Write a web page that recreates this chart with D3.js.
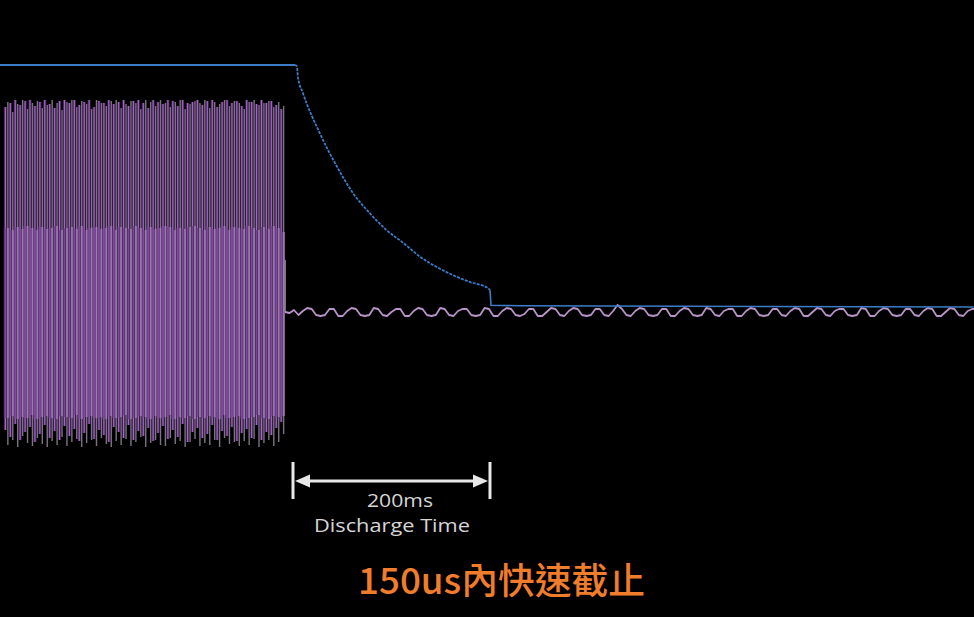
<!DOCTYPE html>
<html><head><meta charset="utf-8">
<script src="https://cdn.jsdelivr.net/npm/d3@7/dist/d3.min.js"></script>
<style>html,body{margin:0;padding:0;background:#000;}svg{display:block;}</style>
</head><body>
<svg id="chart" width="974" height="617"></svg>
<script>
// ---- data (time in ms, discharge starts at t=0) ----
const blueTime = [-300, 2, 4, 5, 10, 27, 45, 61, 78, 95, 112, 129, 146, 162, 180, 198, 200, 201, 230, 691];
const blueVolt = [400, 400, 398, 380, 354, 288, 231, 188, 155, 127, 106, 83, 66, 53, 41, 31, 28, 3, 2, 0];

const pulseTime = [-292,-287,-282,-277,-272,-267,-262,-257,-252,-247,-242,-237,-232,-227,-222,-217,-212,-207,-202,-197,-192,-187,-182,-177,-172,-167,-162,-157,-152,-147,-142,-137,-132,-127,-122,-117,-112,-107,-102,-97,-92,-87,-82,-77,-72,-67,-62,-57,-52,-47,-42,-37,-32,-27,-22,-17,-12];
const pulseHigh = [205,209,212,207,211,212,206,210,212,208,204,211,212,209,212,207,210,212,205,211,209,212,208,210,212,206,211,212,209,204,212,210,208,212,211,206,212,209,210,212,207,211,212,205,210,212,209,211,206,212,210,208,212,209,211,207,203];
const grayHigh  = [210,200,208,212,203,209,211,204,207,212,209,202,210,212,205,211,208,203,212,209,206,211,212,204,208,211,209,203,212,210,206,212,209,205,210,212,203,208,211,209,212,204,210,208,212,206,211,209,203,210,212,207,209,211,205,210,206];
const pulseLow  = [-118,-125,-112,-128,-120,-115,-130,-122,-113,-126,-119,-128,-114,-124,-117,-129,-121,-112,-127,-118,-123,-130,-115,-120,-126,-113,-128,-119,-124,-116,-129,-121,-114,-127,-118,-125,-112,-130,-120,-116,-126,-122,-113,-128,-119,-124,-115,-129,-121,-117,-126,-113,-128,-120,-123,-116,-110];
const grayLow   = [-133,-128,-135,-124,-131,-134,-126,-132,-135,-129,-133,-125,-134,-130,-127,-135,-131,-128,-134,-126,-132,-135,-129,-133,-127,-134,-130,-125,-135,-131,-128,-133,-134,-126,-132,-129,-135,-130,-127,-134,-131,-133,-128,-135,-126,-132,-130,-134,-129,-133,-127,-135,-131,-128,-134,-130,-122];
const bandHigh  = [84,82,85,83,86,84,82,85,83,84,86,82,84,85,83,86,82,84,85,83,84,86,82,85,84,83,86,84,82,85,83,84,86,85,82,84,83,85,86,84,82,85,83,84,86,82,85,84,83,86,84,82,85,83,86,84,80];
const bandLow   = [-106,-104,-107,-105,-106,-103,-107,-105,-104,-106,-107,-104,-105,-106,-103,-107,-105,-104,-106,-105,-107,-104,-106,-105,-103,-107,-106,-104,-105,-107,-104,-106,-105,-103,-107,-105,-106,-104,-107,-105,-106,-104,-105,-107,-103,-106,-105,-104,-107,-106,-105,-103,-106,-107,-104,-105,-104];

// cut-off edge of the purple channel
const cutoffTime = -8, cutoffVolt = 52;
// purple channel after cut-off, sampled every 4.5 ms from t = -8
const rippleStart = -8, rippleStep = 4.5;
const rippleVolt = [0,-1,2,-3,1,4,3,-3,-4,-3,3,3,-4,-4,1,4,3,-3,-4,-3,4,3,-3,-4,0,3,3,-4,-4,1,4,3,-3,-4,-3,4,3,-3,-4,1,3,3,-3,-4,-3,4,3,-4,-4,1,4,3,-3,-4,-2,3,3,-4,-4,0,4,3,-3,-4,1,4,3,-3,-4,-3,3,3,-3,-4,1,7,3,-3,-4,1,4,3,-3,-4,-3,3,3,-4,-4,1,4,3,-3,-4,-3,4,3,-3,-4,1,3,3,-4,-4,1,4,3,-3,-4,-3,3,3,-3,-4,1,4,3,-4,-4,0,4,3,-3,-4,1,3,3,-3,-4,-3,4,3,-4,-4,1,4,3,-3,-4,-3,3,3,-3,-4,1,4,3,-4,-4,0,4,3,-3,-4,1,3,3,-3,-4,-3,4,3,-3];

const arrowStart = 0, arrowEnd = 200;
const arrowLabel1 = "200ms", arrowLabel2 = "Discharge Time";
const title = "150us內快速截止";

// ---- scales ----
const svg = d3.select("#chart");
const x = d3.scaleLinear().domain([-300, 692]).range([-2.5, 974.6]);
const yB = d3.scaleLinear().domain([0, 400]).range([307, 65]);
const yP = d3.scaleLinear().domain([0, 212]).range([312, 100]);

svg.append("rect").attr("width", 974).attr("height", 617).attr("fill", "#000");

// ---- burst ----
const pulses = pulseTime.map((t, i) => ({t, hi: pulseHigh[i], lo: pulseLow[i], ghi: grayHigh[i], glo: grayLow[i], bh: bandHigh[i], bl: bandLow[i]}));
const g = svg.append("g");
const w = x(5) - x(0);
g.selectAll("rect.band").data(pulses).join("rect")
  .attr("x", d => x(d.t) - 1.5).attr("width", w + 0.3)
  .attr("y", d => yP(d.bh)).attr("height", d => yP(d.bl) - yP(d.bh))
  .attr("fill", "#9c55be");
g.selectAll("rect.halo").data(pulses).join("rect")
  .attr("x", d => x(d.t) - 1.5).attr("width", 3)
  .attr("y", d => yP(d.hi)).attr("height", d => yP(d.lo) - yP(d.hi))
  .attr("fill", "#45275a").attr("opacity", 0.9);
g.selectAll("line.p").data(pulses).join("line")
  .attr("x1", d => x(d.t)).attr("x2", d => x(d.t))
  .attr("y1", d => yP(d.hi)).attr("y2", d => yP(d.lo))
  .attr("stroke", "#a862cc").attr("stroke-width", 1.2);
g.selectAll("line.g").data(pulses).join("line")
  .attr("x1", d => x(d.t + 2.5)).attr("x2", d => x(d.t + 2.5))
  .attr("y1", d => yP(d.ghi)).attr("y2", d => yP(d.glo))
  .attr("stroke", "#7a7480").attr("stroke-width", 1.4);
g.selectAll("line.bp").data(pulses).join("line")
  .attr("x1", d => x(d.t)).attr("x2", d => x(d.t))
  .attr("y1", d => yP(d.bh)).attr("y2", d => yP(d.bl))
  .attr("stroke", "#7c3f9c").attr("stroke-width", 1);
g.selectAll("line.bg").data(pulses).join("line")
  .attr("x1", d => x(d.t + 2.5)).attr("x2", d => x(d.t + 2.5))
  .attr("y1", d => yP(d.bh)).attr("y2", d => yP(d.bl))
  .attr("stroke", "#a08cac").attr("stroke-width", 1).attr("opacity", 0.7);

// ---- cut-off edge + ripple ----
svg.append("line").attr("x1", x(cutoffTime)).attr("x2", x(cutoffTime))
  .attr("y1", yP(cutoffVolt)).attr("y2", yP(0)).attr("stroke", "#9a8aa0").attr("stroke-width", 1.4);
const ripple = rippleVolt.map((v, i) => ({t: rippleStart + i * rippleStep, v}));
svg.append("path").datum(ripple)
  .attr("d", d3.line().x(d => x(d.t)).y(d => yP(d.v)))
  .attr("fill", "none").attr("stroke", "#b894c8").attr("stroke-width", 1.8).attr("stroke-linejoin", "round");

// ---- blue bus voltage ----
const blue = blueTime.map((t, i) => ({t, v: blueVolt[i]}));
const bl = d3.line().x(d => x(d.t)).y(d => yB(d.v));
svg.append("path").datum(blue.filter(d => d.t <= 2))
  .attr("d", bl).attr("fill", "none").attr("stroke", "#3c7cc8").attr("stroke-width", 1.8);
svg.append("path").datum(blue.filter(d => d.t >= 2 && d.t <= 200))
  .attr("d", d3.line().x(d => x(d.t)).y(d => yB(d.v)).curve(d3.curveMonotoneX)).attr("fill", "none").attr("stroke", "#3c7cc8")
  .attr("stroke-width", 1.8).attr("stroke-dasharray", "3,1.2");
svg.append("path").datum(blue.filter(d => d.t >= 200))
  .attr("d", bl).attr("fill", "none").attr("stroke", "#3c7cc8").attr("stroke-width", 1.6);

// ---- annotation ----
const ann = svg.append("g").attr("stroke", "#e8e8e8").attr("fill", "#e8e8e8");
const ya = 481;
[arrowStart, arrowEnd].forEach(t => {
  ann.append("line").attr("x1", x(t)).attr("x2", x(t)).attr("y1", 462).attr("y2", 499).attr("stroke-width", 3);
});
ann.append("line").attr("x1", x(arrowStart) + 8).attr("x2", x(arrowEnd) - 8).attr("y1", ya).attr("y2", ya).attr("stroke-width", 3);
const xl = x(arrowStart) + 2, xr = x(arrowEnd) - 2;
ann.append("path").attr("stroke", "none").attr("d", `M${xl},${ya}L${xl + 15},${ya - 6.5}L${xl + 15},${ya + 6.5}Z`);
ann.append("path").attr("stroke", "none").attr("d", `M${xr},${ya}L${xr - 15},${ya - 6.5}L${xr - 15},${ya + 6.5}Z`);

svg.append("text").attr("x", 400).attr("y", 507).attr("text-anchor", "middle")
  .attr("font-family", "Open Sans, sans-serif").attr("font-size", 18).attr("fill", "#d6d6d6")
  .attr("textLength", 66).attr("lengthAdjust", "spacingAndGlyphs").text(arrowLabel1);
svg.append("text").attr("x", 392).attr("y", 532).attr("text-anchor", "middle")
  .attr("font-family", "Open Sans, sans-serif").attr("font-size", 18).attr("fill", "#d6d6d6")
  .attr("textLength", 156).attr("lengthAdjust", "spacingAndGlyphs").text(arrowLabel2);

svg.append("text").attr("x", 358).attr("y", 594)
  .attr("font-family", "Noto Sans CJK TC, sans-serif").attr("font-size", 36.5).attr("font-weight", 500)
  .attr("fill", "#ef7d2b").attr("textLength", 287).attr("lengthAdjust", "spacingAndGlyphs").text(title);
</script>
</body></html>
